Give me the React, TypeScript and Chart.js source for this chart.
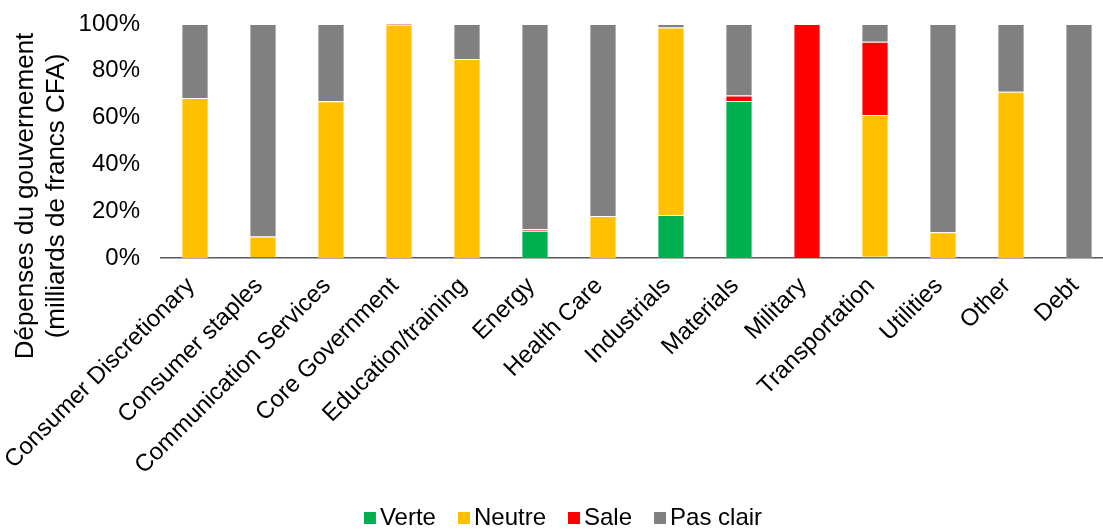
import React, { useEffect, useRef } from "react";
import { Chart, registerables } from "chart.js";

Chart.register(...registerables);

const categories = [
  "Consumer Discretionary",
  "Consumer staples",
  "Communication Services",
  "Core Government",
  "Education/training",
  "Energy",
  "Health Care",
  "Industrials",
  "Materials",
  "Military",
  "Transportation",
  "Utilities",
  "Other",
  "Debt",
];

// Share of spending per sector, in percent
const verte = [0, 0.3, 0, 0, 0, 11.6, 0, 18.4, 67.1, 0, 0.5, 0, 0, 0];
const neutre = [68.4, 8.9, 67.0, 99.7, 85.0, 0, 18.0, 80.1, 0, 0, 60.6, 11.0, 71.0, 0];
const sale = [0, 0, 0, 0.3, 0, 0.8, 0, 0, 2.3, 100, 31.3, 0, 0, 0];
const pasClair = [31.6, 90.8, 33.0, 0, 15.0, 87.6, 82.0, 1.5, 30.6, 0, 7.6, 89.0, 29.0, 100];

const yTicks = [0, 20, 40, 60, 80, 100];
const yTitle = ["Dépenses du gouvernement", "(milliards de francs CFA)"];

const FONT = "'Liberation Sans', Arial, sans-serif";

const yTitlePlugin = {
  id: "yTitle",
  afterDraw(chart: any) {
    const ctx = chart.ctx;
    ctx.save();
    ctx.fillStyle = "#000";
    ctx.font = `26px ${FONT}`;
    ctx.textAlign = "center";
    ctx.textBaseline = "alphabetic";
    const baselines = [33, 64];
    yTitle.forEach((line, i) => {
      ctx.save();
      ctx.translate(baselines[i], 196);
      ctx.rotate(-Math.PI / 2);
      ctx.fillText(line, 0, 0);
      ctx.restore();
    });
    ctx.restore();
  },
};

const legendPlugin = {
  id: "bottomLegend",
  afterDraw(chart: any) {
    const ctx = chart.ctx;
    const box = 12;
    const gap = 4;
    const spacing = 22;
    ctx.save();
    ctx.font = `24px ${FONT}`;
    ctx.textBaseline = "middle";
    ctx.textAlign = "left";
    const items = chart.data.datasets.map((ds: any) => ({
      label: ds.label as string,
      color: ds.backgroundColor as string,
      w: ctx.measureText(ds.label).width,
    }));
    const total =
      items.reduce((s: number, it: any) => s + box + gap + it.w, 0) +
      spacing * (items.length - 1);
    let x = 563 - total / 2;
    const cy = 518;
    items.forEach((it: any) => {
      ctx.fillStyle = it.color;
      ctx.fillRect(x, cy - box / 2, box, box);
      ctx.fillStyle = "#000";
      ctx.fillText(it.label, x + box + gap, cy);
      x += box + gap + it.w + spacing;
    });
    ctx.restore();
  },
};

export default function App() {
  const ref = useRef<HTMLCanvasElement>(null);

  useEffect(() => {
    if (!ref.current) return;
    const chart = new Chart(ref.current, {
      type: "bar",
      data: {
        labels: categories,
        datasets: [
          { label: "Verte", data: verte, backgroundColor: "#00B050" },
          { label: "Neutre", data: neutre, backgroundColor: "#FFC000" },
          { label: "Sale", data: sale, backgroundColor: "#FF0000" },
          { label: "Pas clair", data: pasClair, backgroundColor: "#808080" },
        ].map((d) => ({
          ...d,
          borderColor: "rgba(255,255,255,0.35)",
          borderWidth: 1,
          categoryPercentage: 1,
          barPercentage: 0.4,
        })),
      },
      options: {
        responsive: false,
        animation: false,
        layout: { padding: { top: 24, right: 13, left: 0, bottom: 0 } },
        plugins: {
          legend: { display: false },
          tooltip: { enabled: false },
        },
        scales: {
          x: {
            stacked: true,
            z: 1,
            grid: { display: false, drawTicks: false },
            border: { display: true, color: "#595959", width: 1.5 },
            ticks: {
              color: "#000",
              font: { family: FONT, size: 24 },
              minRotation: 45,
              maxRotation: 45,
              autoSkip: false,
              padding: 14,
              labelOffset: -4,
            },
            afterFit(scale: any) {
              scale.height = 271;
              scale.paddingLeft = 0;
              scale.paddingRight = 0;
            },
          },
          y: {
            stacked: true,
            min: 0,
            max: 100,
            afterBuildTicks(scale: any) {
              scale.ticks = yTicks.map((v) => ({ value: v }));
            },
            grid: { display: false, drawTicks: false },
            border: { display: false },
            ticks: {
              color: "#000",
              font: { family: FONT, size: 24 },
              padding: 21,
              callback: (v: any) => `${v}%`,
            },
            afterFit(scale: any) {
              scale.width = 161;
              scale.paddingTop = 0;
              scale.paddingBottom = 0;
            },
          },
        },
      },
      plugins: [yTitlePlugin, legendPlugin],
    });
    return () => chart.destroy();
  }, []);

  return (
    <div
      style={{
        position: "fixed",
        left: 0,
        top: 0,
        width: 1103,
        height: 529,
        overflow: "hidden",
        background: "#fff",
      }}
    >
      <canvas ref={ref} width={1126} height={529} style={{ display: "block" }} />
    </div>
  );
}
